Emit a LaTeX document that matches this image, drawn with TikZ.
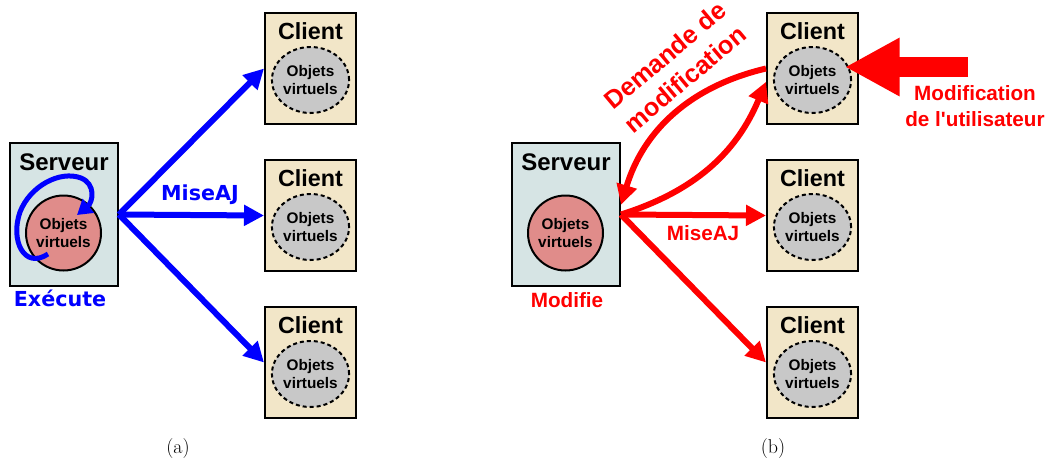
\documentclass[tikz,border=0pt]{standalone}
\usepackage{fontspec}
\setsansfont{Liberation Sans}[Ligatures=TeXOff]
\newfontfamily\djv{DejaVu Sans}
\usetikzlibrary{arrows.meta,shapes.geometric,calc}
\definecolor{srvfill}{RGB}{214,228,228}
\definecolor{objfill}{RGB}{224,140,138}
\definecolor{clfill}{RGB}{242,230,200}
\definecolor{elfill}{RGB}{200,200,200}
\definecolor{myblue}{RGB}{0,0,255}
\definecolor{myred}{RGB}{255,0,0}
\begin{document}
\begin{tikzpicture}[x=0.75pt,y=-0.75pt,
  srvbox/.style={draw,line width=1.5pt,fill=srvfill,minimum width=81pt,minimum height=107.25pt,inner sep=0pt},
  clbox/.style={draw,line width=1.5pt,fill=clfill,minimum width=68.25pt,minimum height=83.25pt,inner sep=0pt},
  ttl/.style={font=\sffamily\bfseries\fontsize{17.5}{20}\selectfont,inner sep=0pt},
  objc/.style={circle,draw,line width=1.5pt,fill=objfill,minimum size=56.25pt,inner sep=0pt,align=center,font=\sffamily\bfseries\fontsize{11.5}{13.5}\selectfont},
  obje/.style={ellipse,draw,dash pattern=on 3pt off 2.25pt,line width=1.5pt,fill=elfill,minimum width=57.75pt,minimum height=49.5pt,inner sep=0pt,align=center,font=\sffamily\bfseries\fontsize{11.5}{13.5}\selectfont},
  bluarr/.style={draw=myblue,line width=4.5pt,-{Triangle[length=15pt,width=15pt]}},
  redarr/.style={draw=myred,line width=4.5pt,-{Triangle[length=15pt,width=15pt]}},
  looparr/.style={draw=myblue,line width=3.75pt,-{Triangle[length=11pt,width=13pt]}},
  bigarr/.style={draw=myred,line width=15pt,-{Triangle[length=41pt,width=41pt]}},
  blutxt/.style={text=myblue,font=\djv\bfseries\fontsize{15.5}{18}\selectfont,inner sep=0pt},
  redtxt/.style={text=myred,font=\sffamily\bfseries\fontsize{15.5}{20}\selectfont,inner sep=0pt},
  captxt/.style={font=\fontsize{15}{18}\selectfont,inner sep=0pt}
]
\useasboundingbox (0,0) rectangle (1051,462);

% ---------- (a) ----------
\node[srvbox] (sA) at (64,214.5) {};
\node[ttl,font=\sffamily\bfseries\fontsize{18}{20}\selectfont] (sAt) at (64,162.5) {Serveur};
\node[objc] (oA) at (63.5,233) {Objets\\virtuels};
\foreach \i/\y in {1/68.5,2/215.5,3/362.5}{
  \node[clbox] (cA\i) at (310.5,\y) {};
  \node[ttl] (cA\i t) at (310.5,\y-37.5) {Client};
  \node[obje] (eA\i) at (310.5,\y+11.5) {Objets\\virtuels};
}
\draw[bluarr] (sA.east) -- (cA1.west);
\draw[bluarr] (sA.east) -- (cA2.west);
\draw[bluarr] (sA.east) -- (cA3.west);
\draw[looparr] (48,254) .. controls (24,270) and (10,240) .. (20,212)
  .. controls (30,186) and (60,170) .. (81,178)
  .. controls (96,184) and (93,202) .. (77,215);
\node[blutxt] (mA) at (200,195) {MiseAJ};
\node[blutxt] (xA) at (60,298) {Exécute};
\node[captxt] (capA) at (178,449) {(a)};

% ---------- (b) ----------
\node[srvbox] (sB) at (566,214.5) {};
\node[ttl,font=\sffamily\bfseries\fontsize{18}{20}\selectfont] (sBt) at (566,162.5) {Serveur};
\node[objc] (oB) at (565.5,233) {Objets\\virtuels};
\foreach \i/\y in {1/68.5,2/215.5,3/362.5}{
  \node[clbox] (cB\i) at (812.5,\y) {};
  \node[ttl] (cB\i t) at (812.5,\y-37.5) {Client};
  \node[obje] (eB\i) at (812.5,\y+11.5) {Objets\\virtuels};
}
\draw[redarr] (sB.east) -- (cB2.west);
\draw[redarr] (sB.east) -- (cB3.west);
\draw[redarr] (cB1.west) to[bend right=30] (sB.10);
\draw[redarr] (sB.east) to[bend right=25] (cB1.196);
\node[redtxt,rotate=40,align=center,font=\sffamily\bfseries\fontsize{19}{23}\selectfont] (dm) at (675,67) {Demande de\\modification};
\node[redtxt] (mB) at (703,233) {MiseAJ};
\node[redtxt] (mf) at (567,300) {Modifie};
\coordinate (uT) at (968,67);
\coordinate (uH) at (845,67);
\draw[bigarr] (uT) -- (uH);
\node[redtxt,align=center] (mu) at (975,106) {Modification\\de l'utilisateur};
\node[captxt] (capB) at (773,449) {(b)};
\end{tikzpicture}
\end{document}
